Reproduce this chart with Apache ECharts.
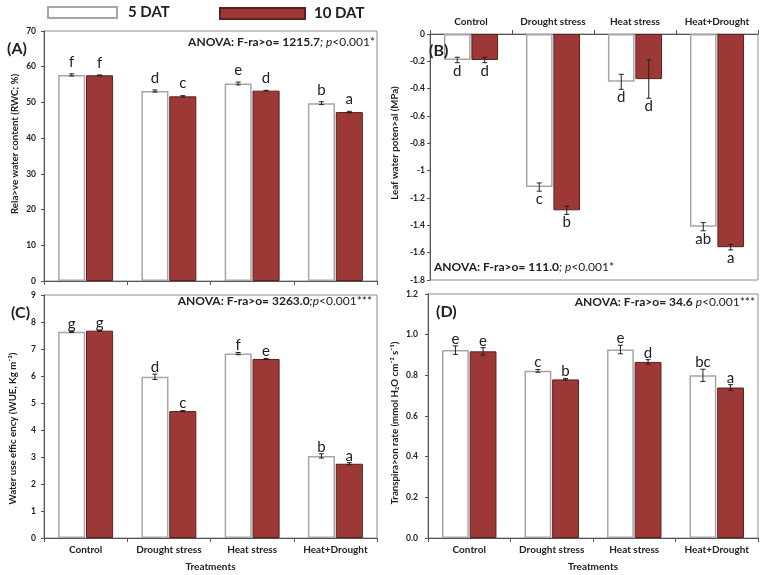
<!DOCTYPE html>
<html>
<head>
<meta charset="utf-8">
<script src="https://cdn.jsdelivr.net/npm/echarts/dist/echarts.min.js"></script>
<style>
  html, body { margin: 0; padding: 0; background: #fff; }
  #main { width: 766px; height: 575px; }
</style>
</head>
<body>
<div id="main"></div>
<script>
// treatments
var categories = ["Control", "Drought stress", "Heat stress", "Heat+Drought"];

// (A) relative water content, %
var rwc5 = [57.7, 53.2, 55.3, 49.8];
var rwc10 = [57.6, 51.7, 53.3, 47.3];
var rwcErr5 = [0.3, 0.3, 0.4, 0.4];
var rwcErr10 = [0.1, 0.2, 0.1, 0.2];
var rwcLetters5 = ["f", "d", "e", "b"];
var rwcLetters10 = ["f", "c", "d", "a"];

// (B) leaf water potential, MPa
var lwp5 = [-0.19, -1.12, -0.35, -1.41];
var lwp10 = [-0.19, -1.29, -0.33, -1.56];
var lwpErr5 = [0.02, 0.03, 0.055, 0.03];
var lwpErr10 = [0.02, 0.03, 0.14, 0.02];
var lwpLetters5 = ["d", "c", "d", "ab"];
var lwpLetters10 = ["d", "b", "d", "a"];

// (C) water use efficiency, Kg m-3
var wue5 = [7.64, 5.97, 6.83, 3.04];
var wue10 = [7.68, 4.70, 6.63, 2.75];
var wueErr5 = [0.03, 0.1, 0.04, 0.08];
var wueErr10 = [0.02, 0.02, 0.02, 0.04];
var wueLetters5 = ["g", "d", "f", "b"];
var wueLetters10 = ["g", "c", "e", "a"];

// (D) transpiration rate
var tr5 = [0.924, 0.822, 0.927, 0.800];
var tr10 = [0.918, 0.780, 0.866, 0.740];
var trErr5 = [0.021, 0.007, 0.021, 0.03];
var trErr10 = [0.018, 0.004, 0.011, 0.014];
var trLetters5 = ["e", "c", "e", "bc"];
var trLetters10 = ["e", "b", "d", "a"];

// axis ranges [min, max, interval]
var rwcAxis = [0, 70, 10];
var lwpAxis = [-1.8, 0, 0.2];
var wueAxis = [0, 9, 1];
var trAxis = [0, 1.2, 0.2];

var FONT = "Lato, 'Liberation Sans', sans-serif";

var myChart = echarts.init(document.getElementById("main"));

function errorSeries (k, side, vals, errs, letters, dir, gap) {
  return {
    type: "custom",
    name: "err" + k + side,
    xAxisIndex: k,
    yAxisIndex: k,
    z: 5,
    data: vals.map(function (v, i) { return [i, v, errs[i]]; }),
    encode: { x: 0, y: 1 },
    renderItem: function (params, api) {
      var i = api.value(0), v = api.value(1), e = api.value(2);
      var band = api.size([1, 0])[0];
      var hi = api.coord([i, v + e]);
      var lo = api.coord([i, v - e]);
      var x = hi[0] + side * band * 0.1675;
      var c = 2.5;
      var ty = dir > 0 ? Math.min(hi[1], lo[1]) - gap : Math.max(hi[1], lo[1]) + gap;
      return {
        type: "group",
        children: [
          { type: "line", shape: { x1: x, y1: hi[1], x2: x, y2: lo[1] }, style: { stroke: "#222", lineWidth: 1 } },
          { type: "line", shape: { x1: x - c, y1: hi[1], x2: x + c, y2: hi[1] }, style: { stroke: "#222", lineWidth: 1 } },
          { type: "line", shape: { x1: x - c, y1: lo[1], x2: x + c, y2: lo[1] }, style: { stroke: "#222", lineWidth: 1 } },
          {
            type: "text", x: x, y: ty,
            style: { text: letters[params.dataIndex], align: "center", verticalAlign: "middle",
              fill: "#222", fontSize: 15, fontFamily: FONT }
          }
        ]
      };
    }
  };
}

function barPair (k, v5, v10) {
  return [
    {
      name: "5 DAT", type: "bar", xAxisIndex: k, yAxisIndex: k, data: v5,
      barGap: "3%", barCategoryGap: "34%",
      itemStyle: { color: "#ffffff", borderColor: "#a5a5ad", borderWidth: 1.5 },
    },
    {
      name: "10 DAT", type: "bar", xAxisIndex: k, yAxisIndex: k, data: v10,
      barGap: "3%", barCategoryGap: "34%",
      itemStyle: { color: "#9c3937", borderColor: "#5e1f1e", borderWidth: 1 },
    },
  ];
}

function yAxisOf (k, range, name, margin, gap, pad, fmt) {
  return {
    type: "value", gridIndex: k, min: range[0], max: range[1], interval: range[2],
    splitLine: { show: false },
    axisLine: { show: true, lineStyle: { color: "#555" } },
    axisTick: { show: true, length: 3, lineStyle: { color: "#555" } },
    axisLabel: { margin: margin, fontSize: 8.5, fontWeight: "bold", color: "#222", fontFamily: FONT, formatter: fmt },
    name: name, nameLocation: "middle", nameGap: gap,
    nameTextStyle: { fontSize: 9.7, fontWeight: "bold", color: "#222", fontFamily: FONT, padding: pad },
  };
}

function xAxisOf (k, pos, showLabel, name) {
  return {
    type: "category", gridIndex: k, data: categories, position: pos,
    axisLine: { show: true, lineStyle: { color: "#555" } },
    axisTick: { show: true, length: 4, lineStyle: { color: "#555" } },
    axisLabel: { show: showLabel, interval: 0, margin: 7, fontSize: 10, fontWeight: "bold", color: "#222", fontFamily: FONT },
    name: name, nameLocation: "middle", nameGap: 24,
    nameTextStyle: { fontSize: 10, fontWeight: "bold", color: "#222", fontFamily: FONT },
  };
}

var rich = {
  b: { fontWeight: "bold", fontSize: 12, color: "#222", fontFamily: FONT },
  i: { fontStyle: "italic", fontWeight: "normal", fontSize: 12, color: "#222", fontFamily: FONT },
  n: { fontWeight: "normal", fontSize: 12, color: "#222", fontFamily: FONT },
};

var option = {
  backgroundColor: "#ffffff",
  animation: false,
  textStyle: { fontFamily: FONT },
  legend: [
    {
      data: [{ name: "5 DAT", icon: "rect" }],
      left: 47, top: 5, padding: 0,
      itemWidth: 69, itemHeight: 11,
      textStyle: { fontSize: 15, fontWeight: "bold", color: "#222", padding: [0, 0, 0, 6] },
    },
    {
      data: [{ name: "10 DAT", icon: "rect" }],
      left: 219, top: 6, padding: 0,
      itemWidth: 85, itemHeight: 11,
      textStyle: { fontSize: 15, fontWeight: "bold", color: "#222", padding: [0, 0, 0, 4] },
    },
  ],
  title: [
    { text: "{b|ANOVA: F-ra>o= 1215.7}{i|; p}{n|<0.001*}", right: 391, top: 36, padding: 0, textStyle: { rich: rich } },
    { text: "{b|ANOVA: F-ra>o= 111.0}{i|; p}{n|<0.001*}", left: 434, top: 261, padding: 0, textStyle: { rich: rich } },
    { text: "{b|ANOVA: F-ra>o= 3263.0}{i|;p}{n|<0.001***}", right: 394, top: 295, padding: 0, textStyle: { rich: rich } },
    { text: "{b|ANOVA: F-ra>o= 34.6 }{i|p}{n|<0.001***}", right: 11, top: 296, padding: 0, textStyle: { rich: rich } },
  ],
  graphic: [
    { type: "text", z: 100, left: 7, top: 41, style: { text: "(A)", fontSize: 16, fontWeight: "bold", fill: "#222", fontFamily: FONT } },
    { type: "text", z: 100, left: 429, top: 43, style: { text: "(B)", fontSize: 16, fontWeight: "bold", fill: "#222", fontFamily: FONT } },
    { type: "text", z: 100, left: 11, top: 305, style: { text: "(C)", fontSize: 16, fontWeight: "bold", fill: "#222", fontFamily: FONT } },
    { type: "text", z: 100, left: 436, top: 304, style: { text: "(D)", fontSize: 16, fontWeight: "bold", fill: "#222", fontFamily: FONT } },
  ],
  grid: [
    { left: 44, top: 31, width: 333, height: 250, show: true, borderColor: "#8c8c8c", borderWidth: 1 },
    { left: 430, top: 34, width: 328, height: 246, show: true, borderColor: "#8c8c8c", borderWidth: 1 },
    { left: 44, top: 295, width: 333, height: 243, show: true, borderColor: "#8c8c8c", borderWidth: 1 },
    { left: 428, top: 294, width: 330, height: 244, show: true, borderColor: "#8c8c8c", borderWidth: 1 },
  ],
  xAxis: [
    xAxisOf(0, "bottom", false, ""),
    xAxisOf(1, "top", true, ""),
    xAxisOf(2, "bottom", true, "Treatments"),
    xAxisOf(3, "bottom", true, "Treatments"),
  ],
  yAxis: [
    yAxisOf(0, rwcAxis, "Rela>ve water content (RWC; %)", 8, 24, [0, 0, 0, 24]),
    yAxisOf(1, lwpAxis, "Leaf water poten>al (MPa)", 5, 30, [0, 0, 0, 28]),
    yAxisOf(2, wueAxis, "Water use effic ency (WUE, Kg m\u207B\u00B3)", 8, 26, [0, 24, 0, 0]),
    yAxisOf(3, trAxis, "Transpira>on rate (mmol H\u2082O cm\u207B\u00B2 s\u207B\u00B9)", 10, 28, [0, 14, 0, 0],
      function (v) { return v.toFixed(1); }),
  ],
  series: [].concat(
    barPair(0, rwc5, rwc10),
    barPair(1, lwp5, lwp10),
    barPair(2, wue5, wue10),
    barPair(3, tr5, tr10),
    [
      errorSeries(0, -1, rwc5, rwcErr5, rwcLetters5, 1, 12),
      errorSeries(0, 1, rwc10, rwcErr10, rwcLetters10, 1, 12),
      errorSeries(1, -1, lwp5, lwpErr5, lwpLetters5, -1, 8),
      errorSeries(1, 1, lwp10, lwpErr10, lwpLetters10, -1, 8),
      errorSeries(2, -1, wue5, wueErr5, wueLetters5, 1, 7),
      errorSeries(2, 1, wue10, wueErr10, wueLetters10, 1, 7),
      errorSeries(3, -1, tr5, trErr5, trLetters5, 1, 7),
      errorSeries(3, 1, tr10, trErr10, trLetters10, 1, 7),
    ]
  ),
};

myChart.setOption(option);
</script>
</body>
</html>
